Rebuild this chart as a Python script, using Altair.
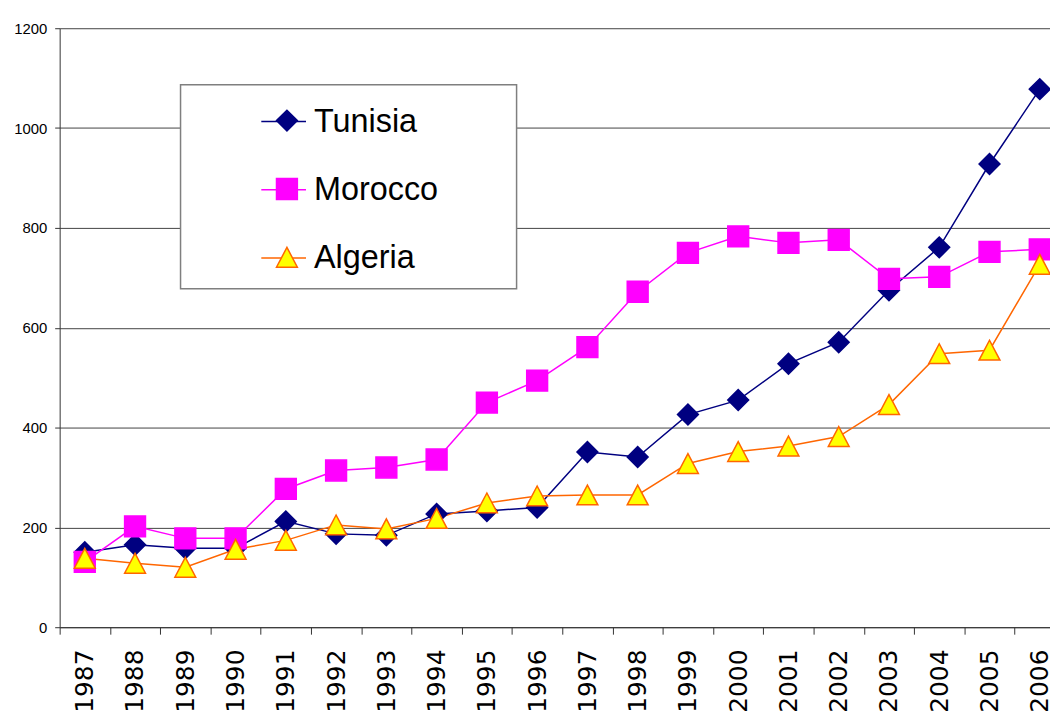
import altair as alt
import pandas as pd

years = [str(y) for y in range(1987, 2007)]
countries = ["Tunisia", "Morocco", "Algeria"]
tunisia = [150, 165, 158, 158, 212, 187, 184, 227, 233, 240, 351, 341, 426, 455, 528, 571, 675, 761, 928, 1078]
morocco = [131, 202, 178, 178, 277, 314, 320, 336, 450, 494, 561, 672, 750, 783, 770, 776, 698, 702, 752, 757]
algeria = [138, 128, 120, 156, 174, 205, 197, 218, 249, 263, 265, 265, 328, 352, 363, 382, 446, 548, 555, 727]
y_ticks = [0, 200, 400, 600, 800, 1000, 1200]

line_colors = ["#000080", "#FF00FF", "#FF6600"]
fill_colors = ["#000080", "#FF00FF", "#FFFF00"]
stroke_colors = ["#000080", "#FF00FF", "#FF6600"]
shapes = ["diamond", "square", "M0,-0.95L1,0.95L-1,0.95Z"]

rows = []
for name, vals in zip(countries, [tunisia, morocco, algeria]):
    for yr, v in zip(years, vals):
        rows.append({"Year": yr, "Value": v, "Country": name, "Series": name})
df = pd.DataFrame(rows)

FONT = "Liberation Sans"

x_enc = alt.X(
    "Year:N",
    sort=years,
    scale=alt.Scale(range=[0, 1012], paddingInner=0, paddingOuter=0),
    axis=alt.Axis(
        title=None, labelAngle=-90, tickBand="extent", tickSize=7,
        tickColor="#333333", domainColor="#333333", labelPadding=15,
        labelFont="DejaVu Sans", labelFontSize=25, labelColor="black",
        grid=False,
    ),
)
y_enc = alt.Y(
    "Value:Q",
    scale=alt.Scale(domain=[0, 1200], nice=False),
    axis=alt.Axis(
        title=None, values=y_ticks, format="d", tickSize=5, tickColor="#333333",
        domainColor="#333333", labelPadding=8, labelFont=FONT,
        labelFontSize=15, labelColor="black", grid=True,
        gridColor="#444444", gridWidth=1,
    ),
)

# line-segment legend (shows labels)
legend_a = alt.Legend(
    title=None, orient="none", legendX=202, legendY=70.5,
    symbolType="stroke", symbolSize=2025, symbolStrokeWidth=1.5,
    labelFont=FONT, labelFontSize=32.6, labelColor="black",
    rowPadding=27.6, labelOffset=7, padding=0, labelLimit=300,
)
# marker legend (no labels), drawn over the line segments
legend_b = alt.Legend(
    title=None, orient="none", legendX=202, legendY=76.7,
    symbolSize=441, symbolOffset=10.5, symbolStrokeWidth=1.5,
    labelFont=FONT, labelFontSize=32.6, labelExpr="''",
    rowPadding=35.8, labelOffset=7, padding=0, labelLimit=300,
)

box = alt.Chart(pd.DataFrame({"k": [0]})).mark_rect(
    fill="white", stroke="#7f7f7f", strokeWidth=1.5
).encode(
    x=alt.value(121.7), x2=alt.value(460), y=alt.value(57), y2=alt.value(262.3)
)

lines = alt.Chart(df).mark_line(strokeWidth=1.5).encode(
    x=x_enc, y=y_enc,
    color=alt.Color("Country:N", sort=countries, scale=alt.Scale(range=line_colors), legend=legend_a),
)

points = alt.Chart(df).mark_point(filled=True, opacity=1, size=441, strokeWidth=1.5).encode(
    x=x_enc, y=y_enc,
    shape=alt.Shape("Series:N", scale=alt.Scale(domain=countries, range=shapes), legend=legend_b),
    fill=alt.Fill("Series:N", scale=alt.Scale(domain=countries, range=fill_colors), legend=legend_b),
    stroke=alt.Stroke("Series:N", scale=alt.Scale(domain=countries, range=stroke_colors), legend=legend_b),
)

chart = alt.layer(box, lines, points).properties(
    width=997, height=603,
    autosize=alt.AutoSizeParams(type="none"),
    padding={"left": 52, "top": 18, "right": 0, "bottom": 85},
    background="white",
).configure_view(strokeWidth=0)

chart.save("out.html", embed_options={"renderer": "svg", "actions": False})
